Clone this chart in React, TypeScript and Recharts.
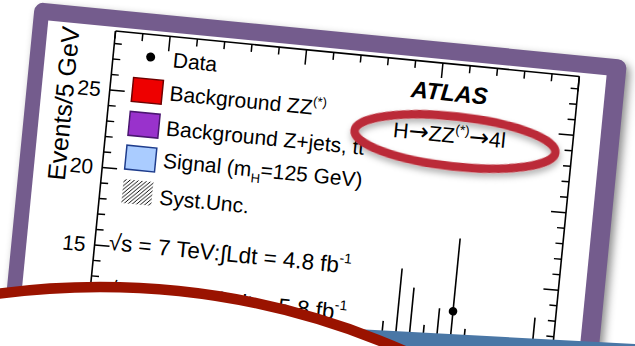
import { ComposedChart, Scatter, ErrorBar, XAxis, YAxis } from "recharts";

// four-lepton mass bin centres [GeV] and observed events per 5 GeV
const massBins = [187.5, 192.5, 197.5, 202.5, 207.5, 212.5, 217.5, 242.5];
const counts = [8, 11, 10, 8, 9, 13, 8, 9];
// asymmetric Poisson (68% CL) errors
const errDown = [2.77, 3.27, 3.11, 2.77, 2.94, 3.57, 2.77, 2.94];
const errUp = [3.95, 4.42, 4.27, 3.95, 4.11, 4.7, 3.95, 4.11];

const massTicks = [80, 90, 100, 110, 120, 130, 140, 150, 160, 170, 180, 190, 200, 210, 220, 230, 240, 250];
const eventTicks = [0, 1, 2, 3, 4, 5, 6, 7, 8, 9, 10, 11, 12, 13, 14, 15, 16, 17, 18, 19, 20, 21, 22, 23, 24, 25, 26, 27, 28];
const eventLabels = [15, 20, 25];

const points = massBins.map((m, i) => ({ m, n: counts[i], err: [errDown[i], errUp[i]] }));

const FONT = '"Liberation Sans", Arial, Helvetica, sans-serif';
const ARROW_FONT = '"DejaVu Sans", sans-serif';
const PURPLE = "#745c8d";

// chart sits inside a tilted slide frame
const FRAME_W = 595;
const FRAME_H = 640;
const CHART_H = 500;
const AXIS_PAD = 2;

function LeftTick({ x, y, payload }: any) {
  const major = payload.value % 5 === 0;
  return (
    <g>
      <line x1={x} y1={y} x2={x + (major ? 15 : 7.5)} y2={y} stroke="#000" strokeWidth={1.5} />
      {eventLabels.includes(payload.value) && (
        <text x={x - 9} y={y} dy={7.5} textAnchor="end" fontSize={21} fontFamily={FONT} fill="#000">
          {payload.value}
        </text>
      )}
    </g>
  );
}

function RightTick({ x, y, payload }: any) {
  const major = payload.value % 5 === 0;
  return <line x1={x} y1={y} x2={x - (major ? 15 : 7.5)} y2={y} stroke="#000" strokeWidth={1.5} />;
}

function TopTick({ x, y, payload }: any) {
  const major = payload.value % 50 === 0;
  return <line x1={x} y1={y} x2={x} y2={y + (major ? 15 : 7.5)} stroke="#000" strokeWidth={1.5} />;
}

function LegendBox({ y, fill, stroke }: { y: number; fill: string; stroke: string }) {
  return <rect x={105.5} y={y - 12} width={30} height={24} fill={fill} stroke={stroke} strokeWidth={1.5} />;
}

function Annotations() {
  const fs = 21;
  return (
    <svg
      width={FRAME_W}
      height={CHART_H}
      style={{ position: "absolute", left: 0, top: 0, pointerEvents: "none" }}
      fontFamily={FONT}
      fill="#000"
    >
      <defs>
        <pattern id="hatch" width="4" height="4" patternUnits="userSpaceOnUse">
          <path d="M-1,1 l2,-2 M0,4 l4,-4 M3,5 l2,-2" stroke="#000" strokeWidth={1} />
        </pattern>
      </defs>
      <text x={47} y={98} transform="rotate(-90 47 98)" textAnchor="middle" fontSize={25}>
        Events/5 GeV
      </text>

      {/* legend */}
      <circle cx={120.5} cy={43.5} r={4.5} fill="#000" />
      <text x={143} y={51.5} fontSize={fs}>Data</text>

      <LegendBox y={77.5} fill="#ee0000" stroke="#6e0000" />
      <text x={143} y={85} fontSize={fs}>
        Background ZZ
        <tspan dy={-9} fontSize={13}>(*)</tspan>
      </text>

      <LegendBox y={111.5} fill="#9932cc" stroke="#4a1670" />
      <text x={143} y={120} fontSize={fs}>
        Background Z+jets, tt
        <tspan dx={-6.4} dy={-5} fontSize={12}>{"\u00AF"}</tspan>
      </text>

      <LegendBox y={145.5} fill="#aaccff" stroke="#1e3c8c" />
      <text x={143} y={152.5} fontSize={fs}>
        Signal (m
        <tspan dy={6} fontSize={13}>H</tspan>
        <tspan dy={-6}>=125 GeV)</tspan>
      </text>

      <rect x={105.5} y={167.5} width={30} height={24} fill="url(#hatch)" />
      <text x={143} y={189.5} fontSize={fs}>Syst.Unc.</text>

      {/* luminosity */}
      <text x={97} y={239.5} fontSize={22.5}>
        {"\u221As = 7 TeV:\u222BLdt = 4.8 fb"}
        <tspan dy={-10} fontSize={14}>-1</tspan>
      </text>
      <text x={97} y={286.5} fontSize={22.5}>
        {"\u221As = 8 TeV:\u222BLdt = 5.8 fb"}
        <tspan dy={-10} fontSize={14}>-1</tspan>
      </text>

      <text x={383} y={58} fontSize={23.5} fontWeight="bold" fontStyle="italic">ATLAS</text>
      <text x={369} y={99.5} fontSize={21.5}>
        H
        <tspan fontFamily={ARROW_FONT} fontSize={24}>{"\u2192"}</tspan>
        ZZ
        <tspan dy={-9} fontSize={13.5}>(*)</tspan>
        <tspan dy={9} fontFamily={ARROW_FONT} fontSize={24}>{"\u2192"}</tspan>
        4l
      </text>
    </svg>
  );
}

export default function App() {
  return (
    <div
      style={{
        position: "fixed",
        left: 0,
        top: 0,
        width: 635,
        height: 346,
        overflow: "hidden",
        background: "#fff",
        fontFamily: FONT,
      }}
    >
      <div
        style={{
          position: "absolute",
          left: 34.5,
          top: 1.8,
          width: FRAME_W,
          height: FRAME_H,
          transform: "rotate(5.6deg)",
          transformOrigin: "0 0",
          background: PURPLE,
          borderRadius: 9,
          boxShadow: "4px 4px 9px rgba(0,0,0,0.45)",
        }}
      >
        <div
          style={{
            position: "absolute",
            left: 15,
            top: 17,
            width: FRAME_W - 15 - 19,
            height: FRAME_H - 17 - 16,
            background: "#fff",
          }}
        />
        <div style={{ position: "absolute", left: 0, top: 0 }}>
          <ComposedChart
            width={FRAME_W}
            height={CHART_H}
            data={points}
            margin={{ top: 21 - AXIS_PAD, right: 46 - AXIS_PAD, left: 83 - AXIS_PAD, bottom: 30.5 }}
          >
            <XAxis
              xAxisId="top"
              orientation="top"
              dataKey="m"
              type="number"
              domain={[80, 250]}
              ticks={massTicks}
              interval={0}
              height={AXIS_PAD}
              tickSize={0}
              tickMargin={0}
              tick={<TopTick />}
              axisLine={{ stroke: "#000", strokeWidth: 1.6 }}
              allowDataOverflow
            />
            <YAxis
              yAxisId="left"
              dataKey="n"
              type="number"
              domain={[0, 28.8]}
              ticks={eventTicks}
              interval={0}
              width={AXIS_PAD}
              tickSize={0}
              tickMargin={0}
              tick={<LeftTick />}
              axisLine={{ stroke: "#000", strokeWidth: 1.6 }}
              allowDataOverflow
            />
            <YAxis
              yAxisId="right"
              orientation="right"
              type="number"
              domain={[0, 28.8]}
              ticks={eventTicks}
              interval={0}
              width={AXIS_PAD}
              tickSize={0}
              tickMargin={0}
              tick={<RightTick />}
              axisLine={{ stroke: "#000", strokeWidth: 1.6 }}
              allowDataOverflow
            />
            <Scatter
              xAxisId="top"
              yAxisId="left"
              dataKey="n"
              isAnimationActive={false}
              shape={(p: any) => <circle cx={p.cx} cy={p.cy} r={4.3} fill="#000" />}
            >
              <ErrorBar dataKey="err" direction="y" width={0} stroke="#000" strokeWidth={1.6} />
            </Scatter>
          </ComposedChart>
        </div>
        <Annotations />
      </div>

      {/* slide decorations drawn over the plot */}
      <svg width={635} height={346} style={{ position: "absolute", left: 0, top: 0 }}>
        <defs>
          <filter id="soft" x="-20%" y="-40%" width="140%" height="180%">
            <feDropShadow dx="1" dy="4" stdDeviation="3" floodColor="#000" floodOpacity="0.3" />
          </filter>
        </defs>
        <polygon points="300,326 635,344 635,360 300,360" fill="#4a77a6" />
        <circle cx={100} cy={1043} r={756} fill="#fff" stroke="#9a1300" strokeWidth={10.5} />
        <ellipse
          cx={455}
          cy={141.5}
          rx={101}
          ry={25}
          transform="rotate(6.3 455 141.5)"
          fill="none"
          stroke="#bb2a37"
          strokeWidth={8.5}
          filter="url(#soft)"
        />
      </svg>
    </div>
  );
}
